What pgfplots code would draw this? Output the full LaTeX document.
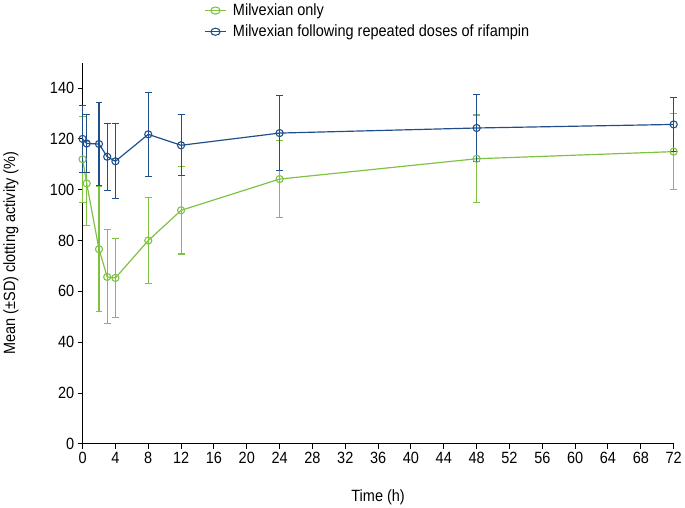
\documentclass[border=0pt]{standalone}
\usepackage{pgfplots}
\pgfplotsset{compat=1.18}
\usepackage{fontspec}
\setmainfont{Liberation Sans}[FakeStretch=0.89]
\definecolor{mgreen}{HTML}{7DC242}
\definecolor{mblue}{HTML}{1F4E8C}
\begin{document}
\begin{tikzpicture}[font=\fontsize{16.5}{19}\selectfont]
\begin{axis}[
  width=597bp, height=385bp, scale only axis,
  xmin=0, xmax=72, ymin=0, ymax=150,
  xtick={0,4,...,72}, ytick={0,20,...,140},
  axis lines=left, axis line style={-, line width=1pt},
  tick align=outside, major tick length=5bp,
  tick style={line width=1pt, black},
  /pgf/number format/assume math mode=true,
  xlabel={Time (h)}, ylabel={Mean (\textpm SD) clotting activity (\%)},
  xlabel style={yshift=-19bp},
  ylabel style={yshift=25bp},
  clip=false,
  legend style={at={(rel axis cs:0.20,1.165)}, anchor=north west, draw=none, fill=none,
    row sep=4bp, font=\fontsize{16.5}{19}\selectfont,
    nodes={inner xsep=6bp}},
  legend image post style={xscale=1.3},
  legend cell align=left,
]
\addplot[mgreen, line width=1.2pt, mark=o, mark size=3.6bp, mark options={line width=1.1pt},
  error bars/.cd, y dir=both, y explicit, error mark options={mgreen, line width=1.1pt, mark size=3.5bp, rotate=90},
  error bar style={line width=1.1pt}]
coordinates {
(0,112) +- (0,17)
(0.5,102.5) +- (0,16.5)
(2,76.6) +- (0,24.6)
(3,65.7) +- (0,18.5)
(4,65.3) +- (0,15.6)
(8,80) +- (0,16.8)
(12,91.9) +- (0,17.2)
(24,104.2) +- (0,15)
(48,112.2) +- (0,17.2)
(72,115) +- (0,15)
};
\addlegendentry{Milvexian only}
\addplot[mblue, line width=1.2pt, mark=o, mark size=3.6bp, mark options={line width=1.1pt},
  error bars/.cd, y dir=both, y explicit, error mark options={mblue, line width=1.1pt, mark size=3.5bp, rotate=90},
  error bar style={line width=1.1pt}]
coordinates {
(0,120) +- (0,13.2)
(0.5,118.2) +- (0,11.4)
(2,118) +- (0,16.5)
(3,113) +- (0,13.2)
(4,111.2) +- (0,14.8)
(8,121.8) +- (0,16.5)
(12,117.5) +- (0,12)
(24,122.3) +- (0,14.8)
(48,124.3) +- (0,13.2)
(72,125.7) +- (0,10.5)
};
\addlegendentry{Milvexian following repeated doses of rifampin}
\end{axis}
\end{tikzpicture}
\end{document}
